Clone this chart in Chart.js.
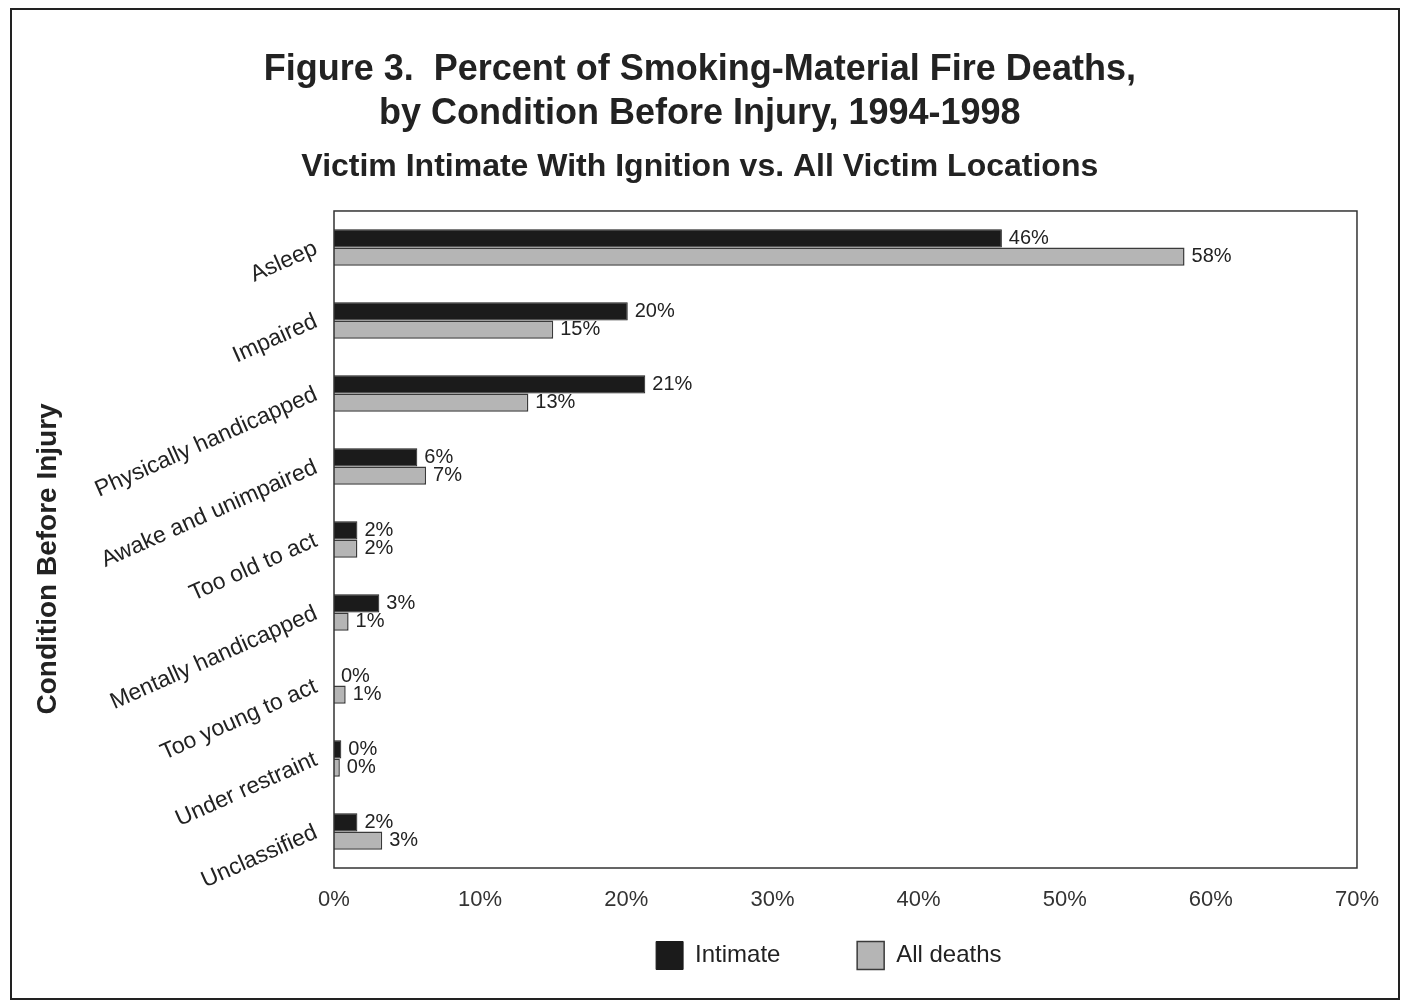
<!DOCTYPE html>
<html>
<head>
<meta charset="utf-8">
<script src="https://cdn.jsdelivr.net/npm/chart.js@4"></script>
<style>
  html, body { margin: 0; padding: 0; background: #fff; }
  #frame {
    position: absolute; left: 10px; top: 8px;
    width: 1390px; height: 992px;
    border: 2px solid #222; box-sizing: border-box; background: #fff;
  }
  #wrap { position: relative; width: 1386px; height: 988px; }
</style>
</head>
<body>
<div id="frame"><div id="wrap"><canvas id="fireChart"></canvas></div></div>
<script>
const conditions = ['Asleep', 'Impaired', 'Physically handicapped', 'Awake and unimpaired', 'Too old to act',
    'Mentally handicapped', 'Too young to act', 'Under restraint', 'Unclassified'];
const intimateValues = [45.7, 20.1, 21.3, 5.7, 1.6, 3.1, 0, 0.5, 1.6];
const allDeathsValues = [58.2, 15.0, 13.3, 6.3, 1.6, 1.0, 0.8, 0.4, 3.3];
const intimateLabels = ['46%', '20%', '21%', '6%', '2%', '3%', '0%', '0%', '2%'];
const allDeathsLabels = ['58%', '15%', '13%', '7%', '2%', '1%', '1%', '0%', '3%'];
const xTicks = [0, 10, 20, 30, 40, 50, 60, 70];

const FONT = 'Arial, "Liberation Sans", Helvetica, sans-serif';
const nbsp = (n) => '\u00a0'.repeat(n);

// etiquetas al final de cada barra
const barLabels = {
    id: 'barLabels',
    afterDatasetsDraw(chart) {
        const ctx = chart.ctx;
        const texts = [intimateLabels, allDeathsLabels];
        ctx.save();
        ctx.font = '20px ' + FONT;
        ctx.fillStyle = '#222';
        ctx.textBaseline = 'middle';
        ctx.textAlign = 'left';
        chart.data.datasets.forEach((ds, d) => {
            chart.getDatasetMeta(d).data.forEach((bar, i) => {
                ctx.fillText(texts[d][i], bar.x + 7, bar.y);
            });
        });
        ctx.restore();
    }
};

// marco completo del area del grafico
const plotBox = {
    id: 'plotBox',
    afterDraw(chart) {
        const a = chart.chartArea;
        const ctx = chart.ctx;
        ctx.save();
        ctx.strokeStyle = '#333';
        ctx.lineWidth = 1.5;
        ctx.strokeRect(a.left, a.top, a.right - a.left, a.bottom - a.top);
        ctx.restore();
    }
};

new Chart(document.getElementById('fireChart'), {
    type: 'bar',
    data: {
        labels: conditions,
        datasets: [{
            label: 'Intimate' + nbsp(10),
            data: intimateValues,
            backgroundColor: '#1b1b1b',
            borderColor: '#1b1b1b',
            borderWidth: 1,
            categoryPercentage: 0.5,
            barPercentage: 1.0
        }, {
            label: 'All deaths' + nbsp(5),
            data: allDeathsValues,
            backgroundColor: '#b5b5b5',
            borderColor: '#3a3a3a',
            borderWidth: 1.5,
            categoryPercentage: 0.5,
            barPercentage: 1.0
        }]
    },
    options: {
        indexAxis: 'y',
        responsive: true,
        maintainAspectRatio: false,
        animation: false,
        layout: { padding: { left: 29.6, right: 40, top: 0, bottom: 18.5 } },
        scales: {
            x: {
                min: 0, max: 70,
                afterBuildTicks: (scale) => { scale.ticks = xTicks.map(v => ({ value: v })); },
                afterFit: (scale) => { scale.height = 63.5; },
                grid: { display: false, drawTicks: false },
                border: { display: false },
                ticks: {
                    padding: 19,
                    color: '#333',
                    font: { family: FONT, size: 22 },
                    callback: (v) => v + '%'
                }
            },
            y: {
                afterFit: (scale) => { scale.width = 292.4; },
                grid: { display: false, drawTicks: false },
                border: { display: false },
                ticks: {
                    padding: 18,
                    minRotation: 24,
                    maxRotation: 24,
                    labelOffset: 0,
                    color: '#222',
                    font: { family: FONT, size: 23 }
                },
                title: {
                    display: true,
                    text: 'Condition Before Injury' + nbsp(5),
                    color: '#222',
                    padding: { top: -10.4, bottom: 4 },
                    font: { family: FONT, size: 28, weight: 'bold' }
                }
            }
        },
        plugins: {
            title: {
                display: true,
                text: ['Figure 3.  Percent of Smoking-Material Fire Deaths,', 'by Condition Before Injury, 1994-1998'],
                color: '#222',
                padding: { top: 38, bottom: 0 },
                font: { family: FONT, size: 36, weight: 'bold', lineHeight: 1.222 }
            },
            subtitle: {
                display: true,
                text: 'Victim Intimate With Ignition vs. All Victim Locations',
                color: '#222',
                padding: { top: 11.8, bottom: 24.8 },
                font: { family: FONT, size: 32, weight: 'bold', lineHeight: 1.2 }
            },
            legend: {
                position: 'bottom',
                fullSize: false,
                labels: {
                    boxWidth: 27,
                    boxHeight: 28,
                    color: '#222',
                    font: { family: FONT, size: 24 }
                }
            },
            tooltip: { enabled: false }
        }
    },
    plugins: [barLabels, plotBox]
});
</script>
</body>
</html>
